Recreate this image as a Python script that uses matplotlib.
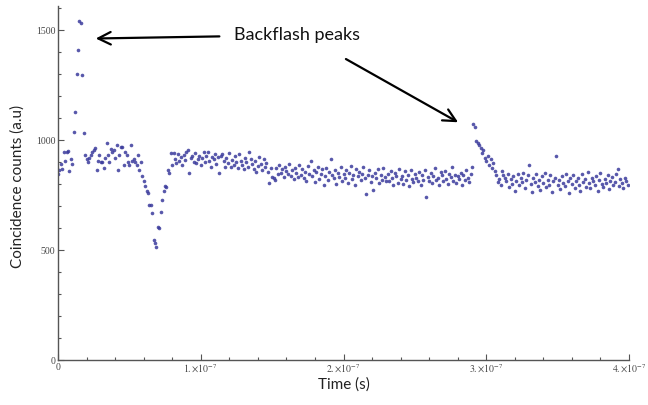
import numpy as np
import matplotlib
matplotlib.use('Agg')
import matplotlib.pyplot as plt

plt.rcParams['mathtext.fontset'] = 'stix'

# counts per 1 ns bin
start_counts = [845, 862, 893, 870, 948, 905, 947, 951, 858, 914, 890]
peak1_counts = [1036, 1126, 1303, 1412, 1540, 1532, 1298, 1032]
band1_counts = [932, 916, 901, 918, 934, 947, 956, 962, 865, 903,
                932, 900, 902, 872, 917, 988, 931, 902, 961, 948,
                955, 918, 977, 864, 933, 970, 968, 886, 947, 932,
                901, 887, 977, 903, 916, 901, 887, 933]
dip_counts = [864, 900, 836, 813, 790, 767, 760, 704, 706, 670,
              548, 530, 512, 603, 600, 674, 727, 770, 790, 788,
              864, 850, 940, 886]
band2_counts = [940, 912, 895, 938, 905, 921, 888, 934, 910, 944,
                955, 849, 917, 927, 902, 941, 896, 912, 930, 887,
                918, 945, 899, 926, 946, 905, 880, 924, 914, 937,
                892, 921, 850, 928, 935, 903, 880, 917, 897, 942,
                876, 910, 886, 926, 901, 874, 935, 905, 888, 869,
                919, 900, 878, 945, 915, 890, 870, 906, 855, 884,
                925, 893, 864, 912, 880, 897, 853, 803, 872, 832]
band3_counts = [826, 818, 871, 845, 889, 852, 867, 834, 880, 858,
                848, 893, 838, 866, 822, 875, 850, 831, 886, 842,
                870, 828, 857, 815, 884, 848, 904, 836, 862, 809,
                853, 877, 824, 845, 868, 795, 838, 872, 817, 856,
                912, 843, 826, 864, 802, 850, 833, 878, 812, 846,
                829, 866, 803, 852, 881, 822, 840, 795, 868, 835,
                856, 818, 847, 880, 827, 757, 842, 863, 810, 838,
                775, 852, 826, 868, 803, 841, 820, 872, 834, 812]
band4_counts = [845, 816, 860, 828, 795, 852, 838, 806, 870, 822,
                835, 800, 858, 817, 843, 790, 866, 824, 808, 848,
                830, 812, 855, 798, 841, 820, 862, 742, 834, 815,
                850, 805, 838, 872, 818, 827, 796, 856, 840, 812,
                861, 824, 800, 845, 832, 878, 815, 843, 806, 836,
                822, 852, 798, 840, 817, 866, 829, 811, 845, 878]
peak2_counts = [1072, 1060, 997, 989, 977, 962, 942, 955, 920, 905,
                930, 888, 912, 873, 895, 860, 842, 810, 825, 795, 858, 840]
tail_counts = [830, 812, 845, 788, 822, 801, 836, 770, 815, 848,
               795, 826, 808, 852, 783, 819, 840, 886, 802, 765,
               828, 810, 846, 790, 817, 774, 835, 806, 852, 788,
               820, 798, 843, 762, 812, 830, 927, 795, 818, 776,
               836, 805, 790, 848, 815, 760, 826, 800, 842, 783,
               812, 830, 795, 770, 845, 808, 822, 788, 856, 803,
               780, 826, 812, 795, 838, 768, 818, 850, 800, 785,
               824, 806, 842, 776, 815, 832, 798, 810, 845, 867,
               790, 822, 805, 780, 830, 812, 798]

counts = np.array(start_counts + peak1_counts + band1_counts + dip_counts +
                  band2_counts + band3_counts + band4_counts + peak2_counts +
                  tail_counts)
time = np.arange(len(counts)) * 1e-9

xticks = [0, 1e-7, 2e-7, 3e-7, 4e-7]
xticklabels = ['0', r'$1.{\times}10^{-7}$', r'$2.{\times}10^{-7}$',
               r'$3.{\times}10^{-7}$', r'$4.{\times}10^{-7}$']
yticks = [0, 500, 1000, 1500]

fig = plt.figure(figsize=(6.48, 4.05), dpi=100)
ax = fig.add_axes([58/648, 45/405, 571/648, 354/405])

ax.plot(time, counts, 'o', ms=2.6, color='#3b3b9c', mec='none', alpha=0.85)

ax.set_xlim(0, 4e-7)
ax.set_ylim(0, 1610)
ax.set_xticks(xticks)
ax.set_xticklabels(xticklabels)
ax.set_yticks(yticks)
ax.set_xticks(np.arange(0, 4.01e-7, 2e-8), minor=True)
ax.set_yticks(np.arange(0, 1601, 100), minor=True)
ax.tick_params(which='both', direction='in', color='#555555', width=0.8)
ax.tick_params(which='major', length=4, labelsize=7, labelcolor='#444444', pad=2)
ax.tick_params(which='minor', length=2)
for lab in ax.get_xticklabels() + ax.get_yticklabels():
    lab.set_family('Liberation Serif')

for s in ['top', 'right']:
    ax.spines[s].set_visible(False)
for s in ['left', 'bottom']:
    ax.spines[s].set_color('#555555')
    ax.spines[s].set_linewidth(1.0)

ax.set_xlabel('Time (s)', family='Lato', fontsize=11, color='#222222')
ax.xaxis.set_label_coords(0.5, -0.048)
ax.set_ylabel('Coincidence counts (a.u)', family='Lato', fontsize=11,
              color='#222222', va='center')
ax.yaxis.set_label_coords(-0.07, 0.49)

ax.text(1.23e-7, 1480, 'Backflash peaks', family='Lato', fontsize=13,
        color='#111111', va='center', ha='left')
arrow = dict(arrowstyle='->,head_length=0.9,head_width=0.45', color='black', lw=1.6)
ax.annotate('', xy=(2.45e-8, 1462), xytext=(1.15e-7, 1472), arrowprops=arrow)
ax.annotate('', xy=(2.82e-7, 1075), xytext=(2.0e-7, 1375), arrowprops=arrow)

fig.savefig('out.png', dpi=100)
